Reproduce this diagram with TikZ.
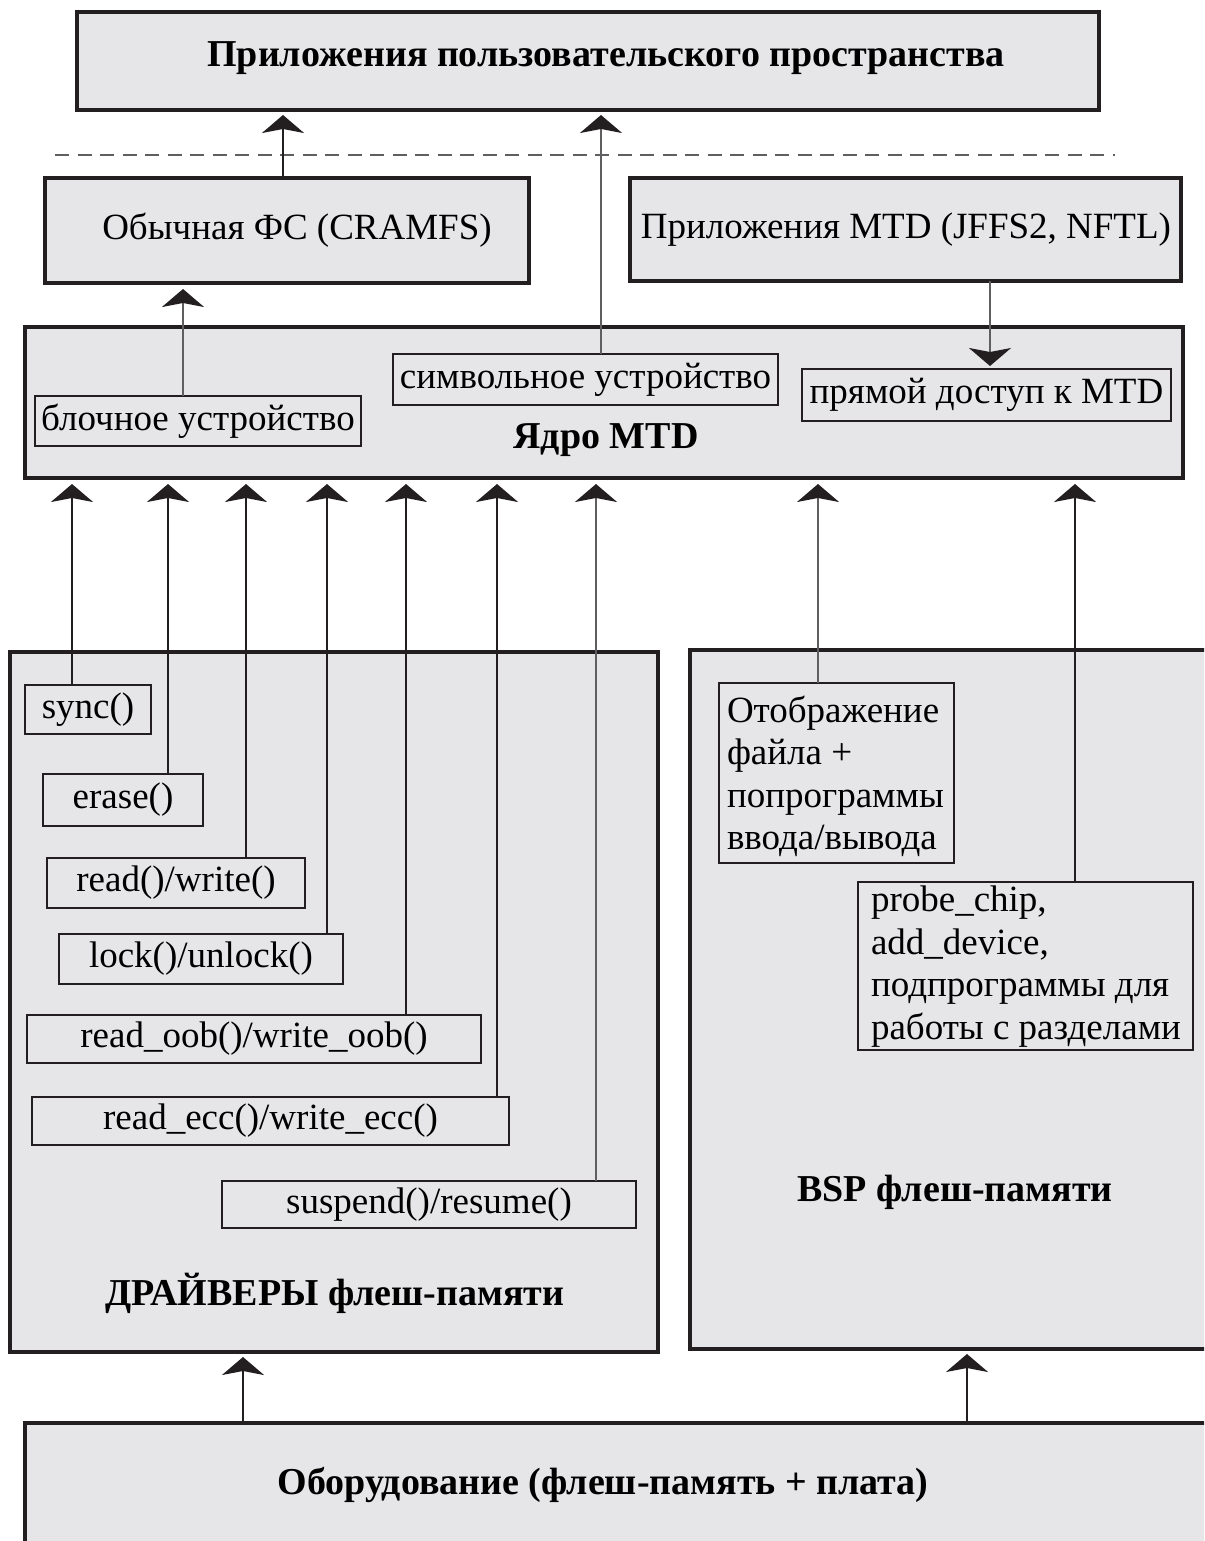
\documentclass[tikz,border=0pt]{standalone}
\usepackage{fontspec}
\setmainfont{Liberation Serif}
\usetikzlibrary{arrows.meta}
\definecolor{boxgray}{RGB}{230,230,232}
\definecolor{edge}{RGB}{35,31,32}
\definecolor{softline}{RGB}{95,95,97}
\begin{document}
\begin{tikzpicture}[x=1pt,y=-1pt,
  every node/.style={inner sep=0pt, outer sep=0pt},
  layer/.style={rectangle, draw=edge, line width=4pt, fill=boxgray},
  item/.style={rectangle, draw=edge, line width=1.6pt},
  txt/.style={font=\fontsize{37}{42.5}\selectfont},
  headtxt/.style={font=\fontsize{38}{44}\selectfont\bfseries},
  link/.style={line width=2pt, draw=edge,
    -{Stealth[length=18pt,width=42pt,inset=4pt,color=edge]}, shorten >=6pt},
  softlink/.style={link, draw=softline},
]
\useasboundingbox (0,0) rectangle (1204,1541);
\clip (0,0) rectangle (1204,1541);

% user space
\node[layer, minimum width=1022, minimum height=98] (user) at (588,61) {};
\node[headtxt] (userl) at (606,58) {Приложения пользовательского пространства};

% boundary between user space and kernel
\coordinate (dl) at (55,155);
\coordinate (dr) at (1115,155);
\draw[softline, line width=2pt, dash pattern=on 14pt off 8.5pt] (dl) -- (dr);

% file systems / MTD users
\node[layer, minimum width=484, minimum height=105] (cramfs) at (287,230.5) {};
\node[txt] (cramfsl) at (297,230) {Обычная ФС (CRAMFS)};
\node[layer, minimum width=551, minimum height=103] (apps) at (905.5,229.5) {};
\node[txt] (appsl) at (906,230) {Приложения MTD (JFFS2, NFTL)};

% MTD core
\node[layer, minimum width=1158, minimum height=151] (core) at (604,402.5) {};
\node[headtxt] (corel) at (606,440) {Ядро MTD};
\node[item, minimum width=326, minimum height=50, txt] (block) at (198,421) {блочное устройство};
\node[item, minimum width=385, minimum height=51, txt] (char) at (585.5,379.5) {символьное устройство};
\node[item, minimum width=369, minimum height=52, txt] (direct) at (986.5,395) {прямой доступ к MTD};

% flash drivers
\node[layer, minimum width=648, minimum height=700] (drv) at (334,1002) {};
\node[headtxt] (drvl) at (335,1293) {ДРАЙВЕРЫ флеш-памяти};
\node[item, minimum width=126, minimum height=49, txt] (sync) at (88,709.5) {sync()};
\node[item, minimum width=160, minimum height=52, txt] (erase) at (123,800) {erase()};
\node[item, minimum width=258, minimum height=50, txt] (rw) at (176,883) {read()/write()};
\node[item, minimum width=284, minimum height=50, txt] (lock) at (201,959) {lock()/unlock()};
\node[item, minimum width=454, minimum height=48, txt] (oob) at (254,1039) {read\_oob()/write\_oob()};
\node[item, minimum width=477, minimum height=48, txt] (ecc) at (270.5,1121) {read\_ecc()/write\_ecc()};
\node[item, minimum width=414, minimum height=47, txt] (susp) at (429,1204.5) {suspend()/resume()};

% board support package
\node[layer, minimum width=540, minimum height=699] (bsp) at (960,999.5) {};
\node[headtxt] (bspl) at (955,1192) {BSP флеш-памяти};
\node[item, minimum width=235, minimum height=180] (map) at (836.5,773) {};
\node[txt, align=left, anchor=north west] (mapl) at (727,696)
  {Отображение\\файла +\\попрограммы\\ввода/вывода};
\node[item, minimum width=335, minimum height=168] (probe) at (1025.5,966) {};
\node[txt, align=left, anchor=north west] (probel) at (871,886)
  {probe\_chip,\\add\_device,\\подпрограммы для\\работы с разделами};

% hardware
\node[layer, minimum width=1205, minimum height=137] (hw) at (627.5,1491.5) {};
\node[headtxt] (hwl) at (603,1485) {Оборудование (флеш-память + плата)};

% connector columns
\coordinate (xa) at (283,0);
\coordinate (xb) at (183,0);
\coordinate (xc) at (601,0);
\coordinate (xd) at (990,0);
\coordinate (c1) at (72,0);
\coordinate (c2) at (168,0);
\coordinate (c3) at (246,0);
\coordinate (c4) at (327,0);
\coordinate (c5) at (406,0);
\coordinate (c6) at (497,0);
\coordinate (c7) at (596,0);
\coordinate (c8) at (818,0);
\coordinate (c9) at (1075,0);
\coordinate (h1) at (243,0);
\coordinate (h2) at (967,0);

\draw[link, shorten >=5pt] (xa |- cramfs.north) -- (xa |- user.south);
\draw[softlink, shorten >=5pt] (xc |- char.north) -- (xc |- user.south);
\draw[softlink] (xb |- block.north) -- (xb |- cramfs.south);
\draw[softlink, shorten >=3pt] (xd |- apps.south) -- (xd |- direct.north);

\draw[link] (c1 |- sync.north) -- (c1 |- core.south);
\draw[link] (c2 |- erase.north) -- (c2 |- core.south);
\draw[link] (c3 |- rw.north) -- (c3 |- core.south);
\draw[link] (c4 |- lock.north) -- (c4 |- core.south);
\draw[link] (c5 |- oob.north) -- (c5 |- core.south);
\draw[link] (c6 |- ecc.north) -- (c6 |- core.south);
\draw[softlink] (c7 |- susp.north) -- (c7 |- core.south);
\draw[softlink] (c8 |- map.north) -- (c8 |- core.south);
\draw[link] (c9 |- probe.north) -- (c9 |- core.south);

\draw[link, shorten >=5pt] (h1 |- hw.north) -- (h1 |- drv.south);
\draw[link, shorten >=5pt] (h2 |- hw.north) -- (h2 |- bsp.south);
\end{tikzpicture}
\end{document}
